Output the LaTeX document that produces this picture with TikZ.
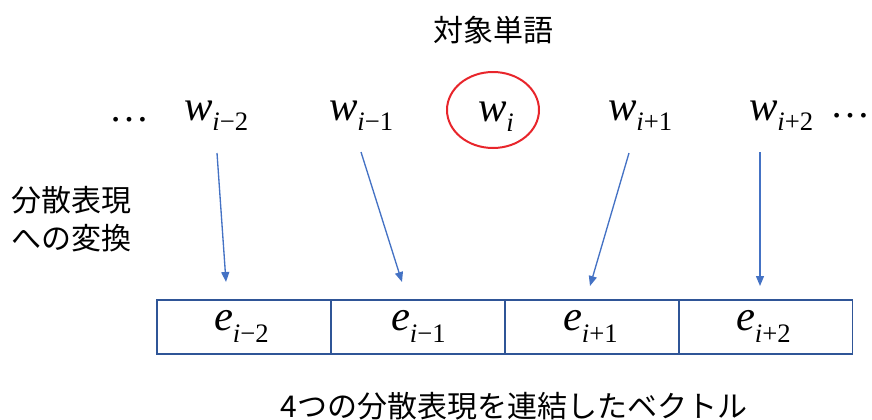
\documentclass[tikz,border=0pt]{standalone}
\usepackage{fontspec}
\setmainfont{Liberation Serif}
\newfontfamily\cjk{Noto Sans CJK JP}
\usetikzlibrary{arrows.meta}
\definecolor{arrowblue}{HTML}{4472C4}
\definecolor{boxblue}{HTML}{2F5597}
\definecolor{circred}{HTML}{E8252B}
\newcommand\wsym[2]{{\fontsize{32pt}{32pt}\selectfont\itshape #1}{\fontsize{20pt}{20pt}\selectfont\raisebox{-#2}{\itshape i}}}
\newcommand\wsub[3]{{\fontsize{32pt}{32pt}\selectfont\itshape #1}{\fontsize{20pt}{20pt}\selectfont\raisebox{-#3}{{\itshape i}#2}}}
\tikzset{
  word/.style={anchor=base west, inner sep=0pt, outer sep=0pt},
  jtext/.style={font=\cjk\fontsize{22.5pt}{28.5pt}\selectfont, inner sep=0pt},
  link/.style={draw=arrowblue, line width=1pt, -{Triangle[length=7.5pt,width=6pt]}},
  cell/.style={draw=boxblue, line width=1.2pt, minimum width=130.5pt, minimum height=40.5pt, inner sep=0pt, outer sep=0pt},
  dots/.style={inner sep=0pt, font=\fontsize{30pt}{30pt}\selectfont}
}
\begin{document}
\begin{tikzpicture}[x=0.75pt,y=-0.75pt]
\useasboundingbox (0,0) rectangle (872,419);
\node[jtext] (target) at (493,30) {対象単語};
\node[jtext, align=left, anchor=west] (conv) at (11,219) {分散表現\\への変換};
\node[jtext] (concat) at (514,406) {4つの分散表現を連結したベクトル};

\node[dots, anchor=base] (ldots) at (129,121) {…};
\node[dots, anchor=base] (rdots) at (850,117) {…};

\node[word] (w1) at (184,120) {\wsub{w}{−2}{8pt}};
\node[word] (w2) at (329,120) {\wsub{w}{−1}{8pt}};
\node[word] (w3) at (478,121) {\wsym{w}{8pt}};
\node[word] (w4) at (608,120) {\wsub{w}{+1}{8pt}};
\node[word] (w5) at (749,120) {\wsub{w}{+2}{8pt}};

\draw[circred, line width=1.5pt] (493,110) ellipse [x radius=46, y radius=38];
\node (center) at (493,110) {};

\node[cell] (c1) at (244,327) {};
\node[cell] (c2) at (418,327) {};
\node[cell] (c3) at (592,327) {};
\node[cell] (c4) at (765.5,327) {};

\node[word] (e1) at (214,330) {\wsub{e}{−2}{9.5pt}};
\node[word] (e2) at (391,330) {\wsub{e}{−1}{9.5pt}};
\node[word] (e3) at (563,330) {\wsub{e}{+1}{9.5pt}};
\node[word] (e4) at (736,330) {\wsub{e}{+2}{9.5pt}};

\coordinate (s1) at (217,153);
\coordinate (t1) at (226,282);
\coordinate (s2) at (361,152);
\coordinate (t2) at (402,282);
\coordinate (s3) at (629,153);
\coordinate (t3) at (590,286);
\coordinate (s4) at (760,152);
\coordinate (t4) at (760,286);
\draw[link] (s1) -- (t1);
\draw[link] (s2) -- (t2);
\draw[link] (s3) -- (t3);
\draw[link] (s4) -- (t4);
\end{tikzpicture}
\end{document}
